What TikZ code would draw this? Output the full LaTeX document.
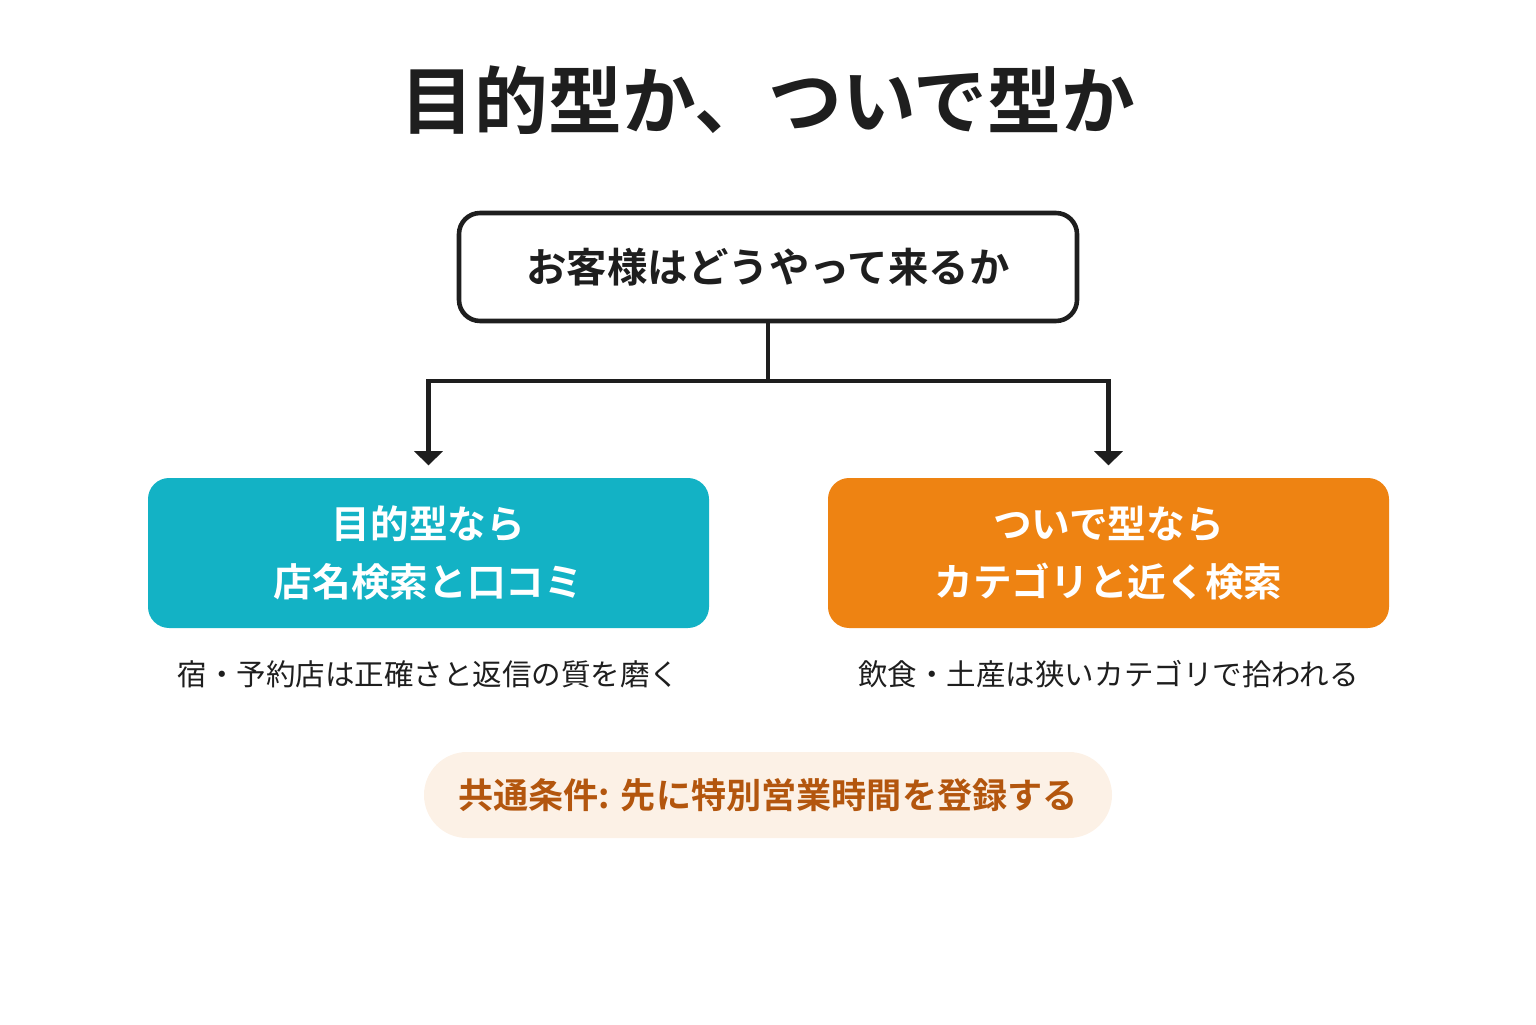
\documentclass[tikz,border=0pt]{standalone}
\usepackage{fontspec}
\newfontfamily\jp{Noto Sans CJK JP}
\newfontfamily\jpb{Noto Sans CJK JP Bold}
\usetikzlibrary{arrows.meta}
\definecolor{ink}{HTML}{1E1E1E}
\definecolor{teal}{HTML}{13B2C5}
\definecolor{orng}{HTML}{EE8312}
\definecolor{pill}{HTML}{FCF1E6}
\definecolor{brwn}{HTML}{B3560E}
\tikzset{
  branch/.style={rounded corners=6pt, minimum width=5.61cm, minimum height=1.5cm,
    text=white, align=center, font=\jpb\fontsize{11}{16.5}\selectfont},
  caption/.style={text=ink, font=\jp\fontsize{8.4}{10}\selectfont},
  link/.style={draw=ink, line width=1.3pt},
}
\begin{document}
\begin{tikzpicture}[x=1cm,y=1cm]
\useasboundingbox (0,0) rectangle (15.36,10.24);
\node (title) at (7.68,9.24) [text=ink, font=\jpb\fontsize{21}{24}\selectfont] {目的型か、ついで型か};
\node (ask) at (7.68,7.57) [draw=ink, line width=1.3pt, rounded corners=6pt, minimum width=6.18cm,
  minimum height=1.08cm, text=ink, font=\jpb\fontsize{11.5}{14}\selectfont] {お客様はどうやって来るか};
\node (goal) at (4.285,4.71) [branch, fill=teal] {目的型なら\\店名検索と口コミ};
\node (side) at (11.085,4.71) [branch, fill=orng] {ついで型なら\\カテゴリと近く検索};
\node (gnote) at (4.285,3.5) [caption] {宿・予約店は正確さと返信の質を磨く};
\node (snote) at (11.085,3.5) [caption] {飲食・土産は狭いカテゴリで拾われる};
\node (common) at (7.68,2.29) [fill=pill, rounded corners=0.43cm, minimum width=6.88cm, minimum height=0.86cm,
  text=brwn, font=\jpb\fontsize{10}{12}\selectfont] {共通条件: 先に特別営業時間を登録する};
\coordinate (fork) at (7.68,6.43);
\draw[link] (ask.south) -- (fork);
\draw[link, -{Triangle[length=4pt,width=8pt]}] (fork) -| ([yshift=0.12cm]goal.north);
\draw[link, -{Triangle[length=4pt,width=8pt]}] (fork) -| ([yshift=0.12cm]side.north);
\end{tikzpicture}
\end{document}
